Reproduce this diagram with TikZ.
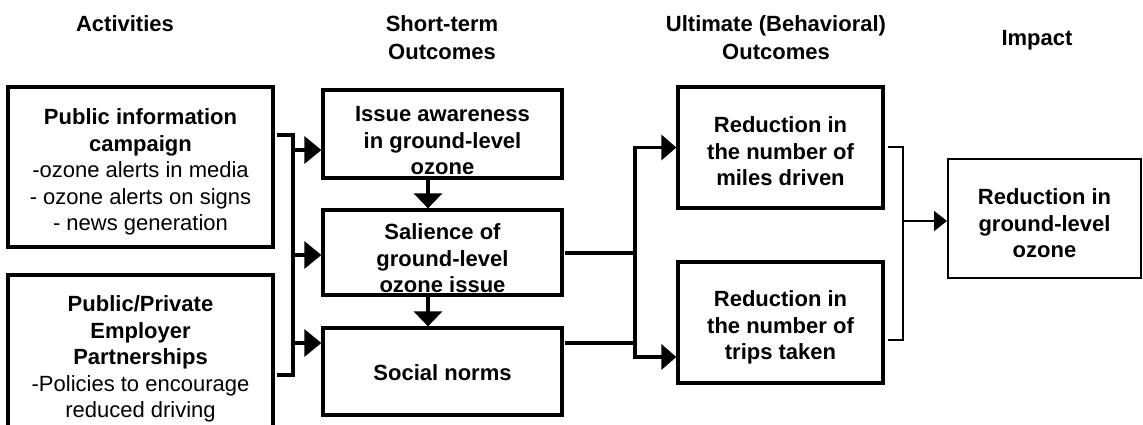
\documentclass[tikz,border=0pt]{standalone}
\usepackage{fontspec}
\setmainfont{Liberation Sans}
\usetikzlibrary{arrows.meta,calc}
\begin{document}
\begin{tikzpicture}[x=1pt,y=-1pt,
  box/.style={draw, line width=3.2pt, inner sep=0pt},
  thinbox/.style={draw, line width=2pt, inner sep=0pt},
  txt/.style={align=center, inner sep=0pt, font=\fontsize{22}{26.5}\selectfont},
  btxt/.style={align=center, inner sep=0pt, font=\bfseries\fontsize{22}{26.5}\selectfont},
  hdr/.style={align=center, inner sep=0pt, font=\bfseries\fontsize{22}{28}\selectfont},
  thk/.style={line width=3.2pt},
  thn/.style={line width=2pt},
  bigarrow/.style={thk, -{Triangle[length=17pt,width=27pt]}},
  downarrow/.style={thk, -{Triangle[length=15pt,width=28pt]}},
  medarrow/.style={thk, -{Triangle[length=15pt,width=25pt]}},
  thinarrow/.style={thn, -{Triangle[length=13pt,width=20pt]}}
]
\clip (0,0) rectangle (1143,425);
% headers
\node[hdr] (h1) at (125,24) {Activities};
\node[hdr] (h2) at (442,38) {Short-term\\Outcomes};
\node[hdr] (h3) at (776,38) {Ultimate (Behavioral)\\Outcomes};
\node[hdr] (h4) at (1037,40) {Impact};
% activity boxes
\node[box, minimum width=265pt, minimum height=160pt] (A) at (140.5,167) {};
\node[txt] (At) at ($(A.center)+(0,5)$)
  {\textbf{Public information}\\\textbf{campaign}\\-ozone alerts in media\\- ozone alerts on signs\\- news generation};
\node[box, minimum width=265pt, minimum height=162pt] (B) at (140.5,356) {};
\node[txt] (Bt) at ($(B.center)+(0,3)$)
  {\textbf{Public/Private}\\\textbf{Employer}\\\textbf{Partnerships}\\-Policies to encourage\\reduced driving};
% short-term outcomes
\node[box, minimum width=239pt, minimum height=88pt] (Issue) at (442.5,134) {};
\node[btxt] (Issuet) at ($(Issue.center)+(0,7)$) {Issue awareness\\in ground-level\\ozone};
\node[box, minimum width=239pt, minimum height=85pt] (Sal) at (442.5,252.5) {};
\node[btxt] (Salt) at ($(Sal.center)+(0,6)$) {Salience of\\ground-level\\ozone issue};
\node[box, minimum width=239pt, minimum height=87pt] (Soc) at (442.5,371.5) {};
\node[btxt] (Soct) at ($(Soc.center)+(0,1)$) {Social norms};
% behavioral outcomes
\node[box, minimum width=205pt, minimum height=121pt] (Miles) at (780.5,147.5) {};
\node[btxt] (Milest) at ($(Miles.center)+(0,4)$) {Reduction in\\the number of\\miles driven};
\node[box, minimum width=205pt, minimum height=121pt] (Trips) at (780.5,322.5) {};
\node[btxt] (Tripst) at ($(Trips.center)+(0,5)$) {Reduction in\\the number of\\trips taken};
% impact
\node[thinbox, minimum width=193pt, minimum height=119pt] (Imp) at (1044.5,218.5) {};
\node[btxt] (Impt) at ($(Imp.center)+(0,5)$) {Reduction in\\ground-level\\ozone};
% left bracket
\coordinate (la) at (277,135);
\coordinate (lb) at (277,375);
\coordinate (lv) at (293,0);
\draw[thk] (la) -| (lv |- lb) -- (lb);
\coordinate (a1) at (293,150);
\coordinate (a2) at (293,255);
\coordinate (a3) at (293,343);
\draw[bigarrow] (a1) -- (a1 -| Issue.west);
\draw[bigarrow] (a2) -- (a2 -| Sal.west);
\draw[bigarrow] (a3) -- (a3 -| Soc.west);
% down arrows
\coordinate (dx) at (428,0);
\draw[downarrow] (Issue.south -| dx) -- (Sal.north -| dx);
\draw[downarrow] (Sal.south -| dx) -- (Soc.north -| dx);
% right fork
\coordinate (r1) at (565,253);
\coordinate (r2) at (565,343);
\coordinate (rv) at (635,0);
\coordinate (t2) at (0,357);
\draw[thk] (r1) -- (r1 -| rv);
\draw[thk] (r2) -- (r2 -| rv);
\draw[medarrow] (rv |- r1) |- (Miles.west);
\draw[medarrow] (rv |- r1) |- (Trips.west |- t2);
% thin bracket
\coordinate (ba) at (888,147);
\coordinate (bb) at (888,340);
\coordinate (bv) at (903,0);
\draw[thn] (ba) -| (bv |- bb) -- (bb);
\coordinate (bm) at (903,221);
\draw[thinarrow] (bm) -- (bm -| Imp.west);
\end{tikzpicture}
\end{document}
